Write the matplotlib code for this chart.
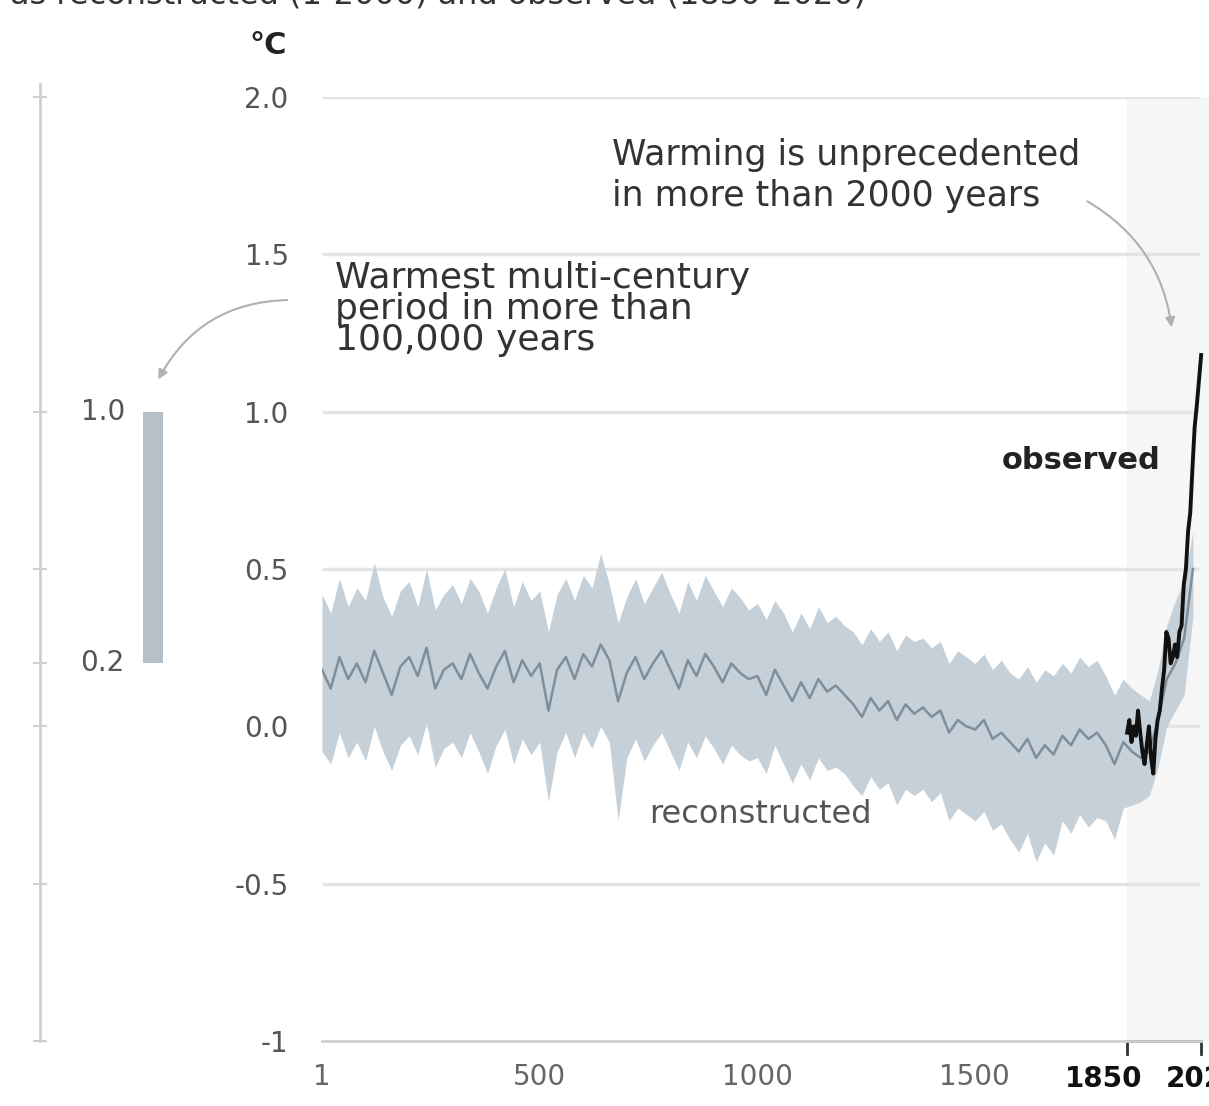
import numpy as np
import matplotlib
matplotlib.use('Agg')
import matplotlib.pyplot as plt
from matplotlib.patches import FancyArrowPatch

plt.rcParams['font.family'] = ['DejaVu Sans']

# ---------------- data ----------------
recon_start, recon_step = 1, 20          # years 1, 21, ..., 2001
recon_mid = [
    0.18, 0.12, 0.22, 0.15, 0.20,   0.14, 0.24, 0.17, 0.10, 0.19,
    0.22, 0.16, 0.25, 0.12, 0.18,   0.20, 0.15, 0.23, 0.17, 0.12,
    0.19, 0.24, 0.14, 0.21, 0.16,   0.20, 0.05, 0.18, 0.22, 0.15,
    0.23, 0.19, 0.26, 0.21, 0.08,   0.17, 0.22, 0.15, 0.20, 0.24,
    0.18, 0.12, 0.21, 0.16, 0.23,   0.19, 0.14, 0.20, 0.17, 0.15,
    0.16, 0.10, 0.18, 0.13, 0.08,   0.14, 0.09, 0.15, 0.11, 0.13,
    0.10, 0.07, 0.03, 0.09, 0.05,   0.08, 0.02, 0.07, 0.04, 0.06,
    0.03, 0.05, -0.02, 0.02, 0.00,  -0.01, 0.02, -0.04, -0.02, -0.05,
    -0.08, -0.04, -0.10, -0.06, -0.09, -0.03, -0.06, -0.01, -0.04, -0.02,
    -0.06, -0.12, -0.05, -0.08, -0.10, -0.08, 0.02, 0.15, 0.20, 0.28,
    0.50,
]
recon_hi = [
    0.42, 0.36, 0.47, 0.38, 0.44,   0.40, 0.52, 0.41, 0.35, 0.43,
    0.46, 0.38, 0.50, 0.37, 0.42,   0.45, 0.39, 0.47, 0.43, 0.36,
    0.44, 0.50, 0.38, 0.46, 0.40,   0.43, 0.30, 0.42, 0.47, 0.40,
    0.48, 0.44, 0.55, 0.45, 0.33,   0.41, 0.47, 0.39, 0.44, 0.49,
    0.42, 0.36, 0.46, 0.40, 0.48,   0.43, 0.38, 0.44, 0.41, 0.37,
    0.39, 0.34, 0.40, 0.36, 0.30,   0.36, 0.31, 0.38, 0.33, 0.35,
    0.32, 0.30, 0.26, 0.31, 0.27,   0.30, 0.24, 0.29, 0.27, 0.28,
    0.25, 0.27, 0.20, 0.24, 0.22,   0.20, 0.23, 0.18, 0.21, 0.17,
    0.15, 0.19, 0.14, 0.18, 0.16,   0.20, 0.17, 0.22, 0.19, 0.21,
    0.16, 0.10, 0.15, 0.12, 0.10,   0.08, 0.18, 0.32, 0.40, 0.46,
    0.62,
]
recon_lo = [
    -0.08, -0.12, -0.02, -0.10, -0.05,  -0.11, 0.00, -0.08, -0.14, -0.06,
    -0.03, -0.09, 0.01, -0.13, -0.07,   -0.05, -0.10, -0.02, -0.08, -0.15,
    -0.06, -0.01, -0.12, -0.04, -0.09,  -0.05, -0.24, -0.08, -0.02, -0.10,
    -0.02, -0.07, 0.00, -0.05, -0.30,   -0.10, -0.04, -0.11, -0.06, -0.02,
    -0.08, -0.14, -0.05, -0.10, -0.03,  -0.07, -0.12, -0.06, -0.09, -0.11,
    -0.10, -0.15, -0.06, -0.12, -0.18,  -0.12, -0.17, -0.10, -0.14, -0.13,
    -0.15, -0.19, -0.22, -0.16, -0.20,  -0.18, -0.25, -0.20, -0.22, -0.20,
    -0.24, -0.21, -0.30, -0.26, -0.28,  -0.30, -0.27, -0.33, -0.31, -0.36,
    -0.40, -0.34, -0.43, -0.37, -0.41,  -0.30, -0.34, -0.28, -0.32, -0.29,
    -0.30, -0.36, -0.26, -0.25, -0.24,  -0.22, -0.13, 0.00, 0.05, 0.10,
    0.35,
]
obs_start, obs_step = 1850, 5            # years 1850, 1855, ..., 2020
obs_vals = [
    -0.02, 0.02, -0.05, 0.00, -0.03, 0.05, -0.02, -0.08, -0.12, -0.06,
    0.00, -0.10, -0.15, -0.04, 0.02, 0.05, 0.12, 0.18, 0.30, 0.28,
    0.20, 0.22, 0.26, 0.22, 0.30, 0.32, 0.45, 0.50, 0.62, 0.68,
    0.82, 0.95, 1.02, 1.10, 1.18,
]
warm_period = [0.2, 1.0]                 # warmest multi-century period range

y_ticks = [2.0, 1.5, 1.0, 0.5, 0.0, -0.5, -1.0]
y_labels = ['2.0', '1.5', '1.0', '0.5', '0.0', '-0.5', '-1']
x_ticks = [1, 500, 1000, 1500]
x_labels = ['1', '500', '1000', '1500']
strip_ticks = [2.0, 1.0, 0.5, 0.2, 0.0, -0.5, -1.0]

recon_years = recon_start + recon_step * np.arange(len(recon_mid))
obs_years = obs_start + obs_step * np.arange(len(obs_vals))

# ---------------- figure ----------------
W, H = 1209, 1106
fig = plt.figure(figsize=(W / 100, H / 100), dpi=100)
fig.patch.set_facecolor('white')

ax = fig.add_axes([322 / W, (H - 1041) / H, (W - 322) / W, 944 / H])
ax.set_xlim(1, 2038)
ax.set_ylim(-1, 2.0)
for s in ['top', 'right', 'left']:
    ax.spines[s].set_visible(False)
ax.spines['bottom'].set_color('#d0d0d0')
ax.spines['bottom'].set_linewidth(2)
ax.spines['bottom'].set_bounds(1, 2020)

ax.axvspan(1850, 2038, color='#f6f6f6', zorder=0, lw=0)
ax.hlines([t for t in y_ticks if t > -1], 1, 2015, color='#e4e4e4', lw=2.5, zorder=1)

ax.fill_between(recon_years, recon_lo, recon_hi, color='#c6d0d8', lw=0, zorder=2)
ax.plot(recon_years, recon_mid, color='#7f8e9b', lw=1.8, zorder=3)
ax.plot(obs_years, obs_vals, color='#111111', lw=2.8, zorder=4)

ax.set_yticks(y_ticks)
ax.set_yticklabels(y_labels, color='#555555', fontsize=20)
ax.tick_params(axis='y', length=0, pad=24)
ax.set_xticks(x_ticks)
ax.set_xticklabels(x_labels, color='#666666', fontsize=20)
ax.tick_params(axis='x', length=0, pad=16)

ax.annotate('1850', xy=(1850, -1), xycoords='data', xytext=(11, -17),
            textcoords='offset points', ha='right', va='top',
            fontsize=20, fontweight='bold', color='#111111', annotation_clip=False)
ax.annotate('2020', xy=(1850, -1), xycoords='data', xytext=(28, -17),
            textcoords='offset points', ha='left', va='top',
            fontsize=20, fontweight='bold', color='#111111', annotation_clip=False)
ax.plot([1850, 1850, 2020, 2020], [-0.014, 0, 0, -0.014],
        transform=ax.get_xaxis_transform(), clip_on=False, color='#333333', lw=2)

ax.text(667, 1.87, 'Warming is unprecedented\nin more than 2000 years',
        ha='left', va='top', fontsize=25, color='#333333', linespacing=1.25)
ax.text(31, 1.48, 'Warmest multi-century\nperiod in more than\n100,000 years',
        ha='left', va='top', fontsize=26, color='#333333', linespacing=0.9)
ax.text(1926, 0.845, 'observed', ha='right', va='center', fontsize=22,
        fontweight='bold', color='#222222')
ax.text(1007, -0.28, 'reconstructed', ha='center', va='center', fontsize=23,
        color='#555555')

# ---------------- left strip ----------------
ax2 = fig.add_axes([40 / W, (H - 1041) / H, 160 / W, 944 / H])
ax2.set_xlim(0, 1)
ax2.set_ylim(-1, 2.0)
ax2.patch.set_alpha(0)
for s in ['top', 'right', 'bottom']:
    ax2.spines[s].set_visible(False)
ax2.spines['left'].set_color('#cfcfcf')
ax2.spines['left'].set_linewidth(2)
ax2.spines['left'].set_bounds(-1, 2.04)
ax2.set_xticks([])
ax2.set_yticks(strip_ticks)
ax2.set_yticklabels([])
ax2.tick_params(axis='y', direction='inout', length=10, color='#cfcfcf', width=1.5)
ax2.bar(0.706, warm_period[1] - warm_period[0], bottom=warm_period[0], width=0.125,
        color='#b5c0c9', lw=0)
for v in warm_period:
    ax2.text(0.53, v, f'{v:.1f}', ha='right', va='center', fontsize=20, color='#555555')

# ---------------- arrows / headers ----------------
arr1 = FancyArrowPatch((290 / W, 1 - 300 / H), (157 / W, 1 - 382 / H),
                       transform=fig.transFigure, connectionstyle='arc3,rad=0.3',
                       arrowstyle='-|>', mutation_scale=14, color='#b0b0b0', lw=1.5)
fig.add_artist(arr1)
arr2 = FancyArrowPatch((1085 / W, 1 - 200 / H), (1172 / W, 1 - 330 / H),
                       transform=fig.transFigure, connectionstyle='arc3,rad=-0.25',
                       arrowstyle='-|>', mutation_scale=14, color='#b0b0b0', lw=1.5)
fig.add_artist(arr2)

fig.text(268 / W, 1 - 45 / H, '°C', ha='center', va='center', fontsize=22,
         fontweight='bold', color='#222222')
fig.text(10 / W, 1 - 3 / H, 'as reconstructed (1-2000) and observed (1850-2020)',
         ha='left', va='baseline', fontsize=23, color='#333333')

fig.savefig('out.png', dpi=100, facecolor='white')
